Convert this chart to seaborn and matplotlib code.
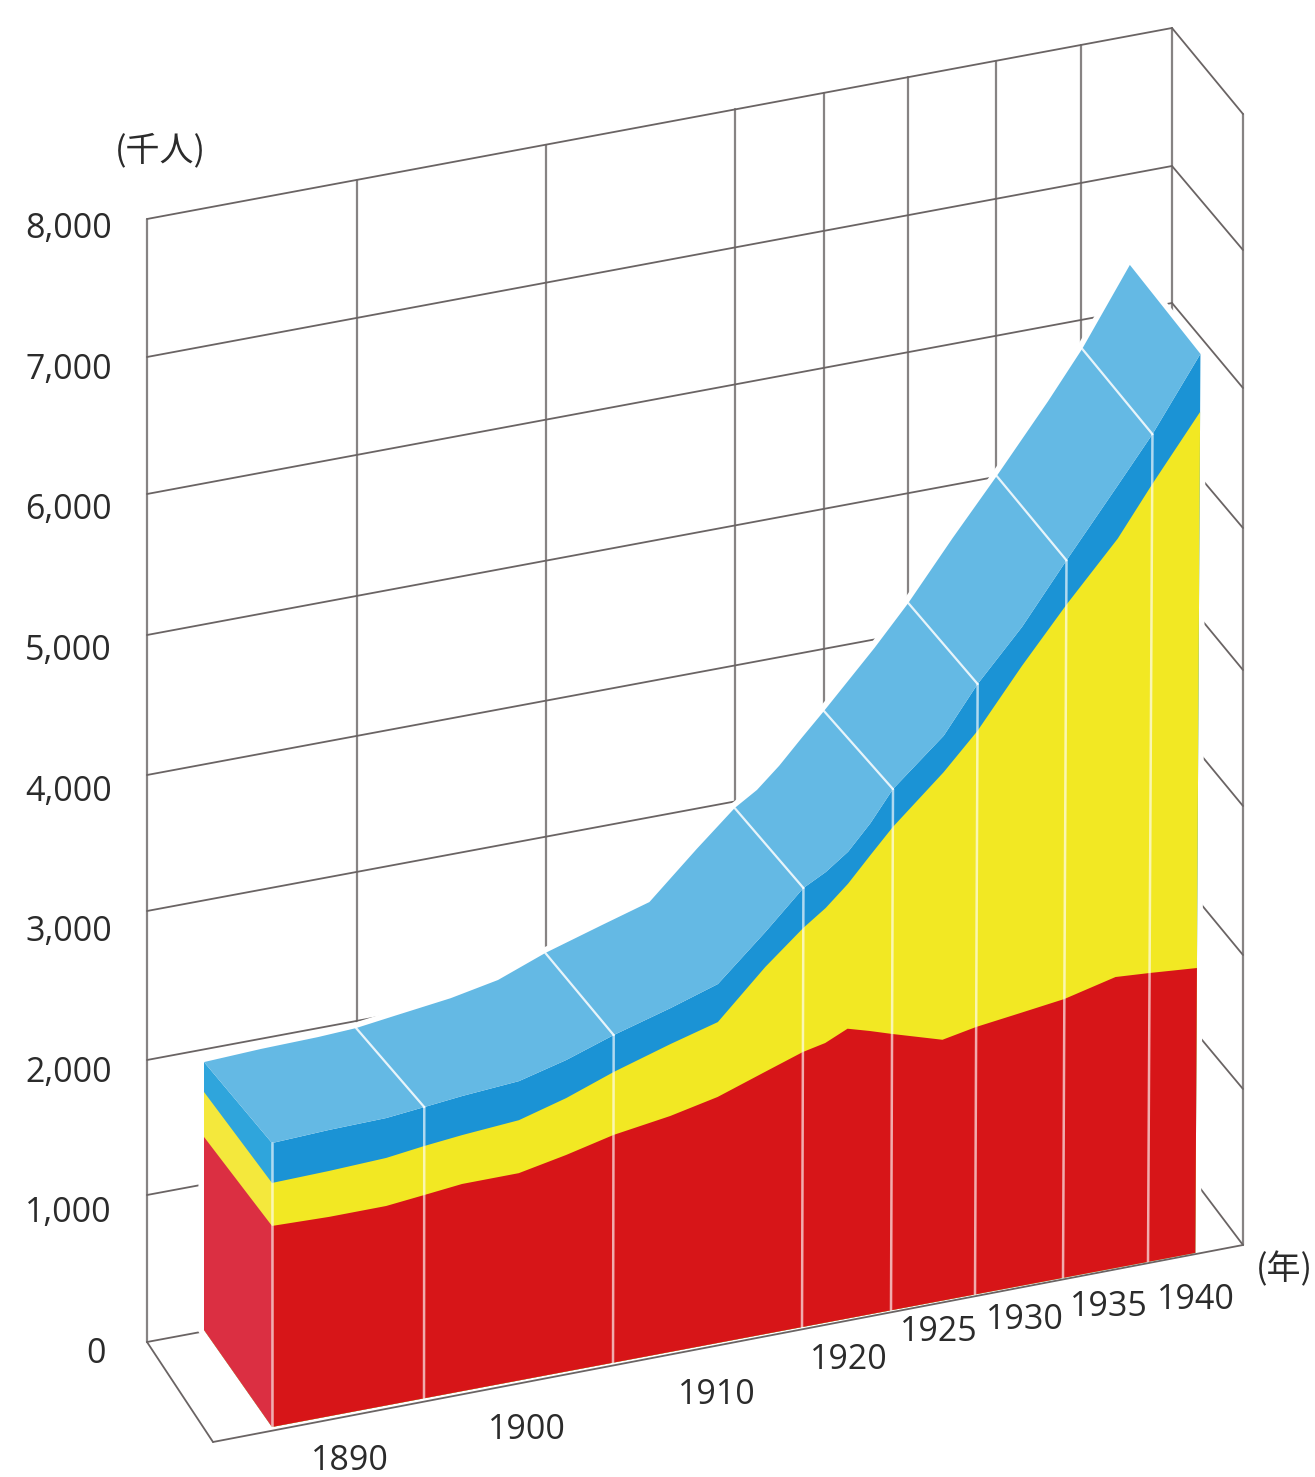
import numpy as np
import pandas as pd
import matplotlib
matplotlib.use('Agg')
import matplotlib.pyplot as plt
import seaborn as sns

# population, thousands
years = [1882, 1885, 1888, 1890, 1892, 1895, 1897.5, 1900, 1903, 1905.5, 1908, 1910, 1912.5,
         1915, 1917.5, 1920, 1923, 1925, 1927.5, 1930, 1933, 1935, 1937.6]
red = [1431, 1419, 1420, 1447, 1475, 1476, 1542, 1621, 1680, 1752, 1867, 1958, 1992,
       2064, 2018, 1967, 1858, 1904, 1944, 1985, 2073, 2056, 2028]
yellow = [1737, 1746, 1762, 1796, 1823, 1853, 1947, 2069, 2192, 2285, 2614, 2841, 2953,
          3096, 3270, 3440, 3762, 4011, 4414, 4790, 5194, 5535, 5986]
total = [2021, 2038, 2046, 2073, 2101, 2131, 2218, 2332, 2448, 2556, 2863, 3125, 3209,
         3324, 3498, 3710, 4022, 4345, 4692, 5107, 5575, 5891, 6399]
# back edge of the block, drawn a little lower than the front
total_back = [1907, 1924, 1932, 1945, 1980, 2031, 2097, 2226, 2349, 2449, 2764, 3004, 3103,
              3246, 3413, 3575, 3957, 4231, 4633, 5017, 5480, 5808, 6342]
side_red = 1374
side_yellow = 1694

tick_years = [1890, 1900, 1910, 1920, 1925, 1930, 1935, 1940]
value_ticks = [0, 1000, 2000, 3000, 4000, 5000, 6000, 7000, 8000]
value_labels = ['0', '1,000', '2,000', '3,000', '4,000', '5,000', '6,000', '7,000', '8,000']

# the year axis is not even, this is where the years sit on the front edge
axis_years = [1879, 1882, 1890, 1900, 1910, 1920, 1925, 1930, 1935, 1940]
axis_pos = [214, 272, 424, 613, 802, 891, 975, 1063, 1148, 1239]
year_label_pos = [(350, 1461), (527, 1430), (717, 1395), (849, 1360),
                  (939, 1332), (1025, 1320), (1109, 1307), (1196, 1300)]
# the drawn walls are not quite even either: ends of the grid lines, value 0 to 8000
wall_left_y = [1342, 1195, 1060, 911, 775, 635, 494, 357, 219]
wall_front_y = [1245, 1089, 955, 806, 670, 528, 388, 250, 114]

col_red, col_yellow, col_dark, col_top = '#d71518', '#f2e823', '#1b93d5', '#64b9e4'
side_reds, side_yellows, side_blues = '#db2f42', '#f4e83c', '#2fa5dc'
line_col = '#6a6464'
upright_col = '#878383'
text_col = '#2b2b2b'


def block_xy(yr, val, depth):
    # depth 1 is the front face, 0 the back edge
    yr, val = np.asarray(yr, float), np.asarray(val, float)
    x = np.interp(yr, axis_years, axis_pos)
    base = 1427 - 0.1885 * (x - 272)
    lean = 0.0008 * val * (x - 272) / 923 * (0.5 + 0.5 * depth)
    return x - 68 * (1 - depth) + lean, base - 97 * (1 - depth) - val * 0.1405


def back_x(yr):
    return np.interp(yr, axis_years, axis_pos) - 67


def back_y(x, left_y):
    return left_y - 191 * (x - 147) / 1025


def poly(ax, points, color, z):
    xs = np.concatenate([p[0] for p in points])
    ys = np.concatenate([p[1] for p in points])
    ax.fill(xs, ys, color=color, lw=0, zorder=z)


def line_table(segs):
    rows = []
    for i, (a, b) in enumerate(segs):
        rows.append({'line': i, 'x': float(a[0]), 'y': float(a[1])})
        rows.append({'line': i, 'x': float(b[0]), 'y': float(b[1])})
    return pd.DataFrame(rows)


def draw_lines(ax, segs, color, lw, z, alpha=1):
    sns.lineplot(data=line_table(segs), x='x', y='y', units='line', estimator=None, sort=False,
                 color=color, linewidth=lw, zorder=z, alpha=alpha, legend=False, ax=ax)


sns.set_theme(style='white')
plt.rcParams['font.family'] = ['Open Sans', 'Noto Sans CJK JP', 'DejaVu Sans']

fig = plt.figure(figsize=(13.15, 14.77), dpi=100)
ax = fig.add_axes([0, 0, 1, 1])

# walls and floor behind the block
x_l, x_r, x_f = back_x(1879), back_x(1940), 1243
slant_segs, upright_segs = [], []
for ly, fy in zip(wall_left_y, wall_front_y):
    slant_segs.append(((x_l, ly), (x_r, back_y(x_r, ly))))
    slant_segs.append(((x_r, back_y(x_r, ly)), (x_f, fy)))
for yr in [1879] + tick_years:
    x = back_x(yr)
    upright_segs.append(((x, back_y(x, wall_left_y[0])), (x, back_y(x, wall_left_y[-1]))))
upright_segs.append(((x_f, wall_front_y[0]), (x_f, wall_front_y[-1])))
slant_segs.append(((x_l, wall_left_y[0]), (213, 1442)))
draw_lines(ax, upright_segs, upright_col, 1.6, 1)
draw_lines(ax, slant_segs, line_col, 1.3, 1)

yrs = np.array(years)
zero = np.zeros(len(yrs))
start = yrs[:1]

# white gap round the block where the grid stops short of it
outline = [block_xy(yrs, total_back, 0), block_xy(yrs[-1:], total[-1:], 1),
           block_xy(yrs[-1:], [0], 1), block_xy(start, [0], 1), block_xy(start, [0], 0)]
ax.fill(np.concatenate([p[0] for p in outline]), np.concatenate([p[1] for p in outline]),
        facecolor='white', edgecolor='white', lw=8, joinstyle='miter', zorder=2)

# side face, back to front and top down
for top_b, top_f, c in [(total_back[0], total[0], side_blues),
                        (side_yellow, yellow[0], side_yellows),
                        (side_red, red[0], side_reds)]:
    poly(ax, [block_xy(start, [top_b], 0), block_xy(start, [top_f], 1),
              block_xy(start, [0], 1), block_xy(start, [0], 0)], c, 3)

# front face, every band goes down to the floor so no seams show
for series, c in [(total, col_dark), (yellow, col_yellow), (red, col_red)]:
    fx, fy = block_xy(yrs, series, 1)
    bx, by = block_xy(yrs, zero, 1)
    poly(ax, [(fx, fy), (bx[::-1], by[::-1])], c, 4)

# top surface
fx, fy = block_xy(yrs, total, 1)
bx, by = block_xy(yrs, total_back, 0)
poly(ax, [(bx, by), (fx[::-1], fy[::-1])], col_top, 5)

# white year lines on the block
white_segs, ridge_segs = [], []
for yr in tick_years[:-1]:
    t_f = np.interp(yr, yrs, total)
    t_b = np.interp(yr, yrs, total_back)
    white_segs.append((block_xy(yr, 0, 1), block_xy(yr, t_f, 1)))
    ridge_segs.append((block_xy(yr, t_b, 0), block_xy(yr, t_f, 1)))
white_segs.append((block_xy(start[0], 0, 1), block_xy(start[0], total[0], 1)))
draw_lines(ax, white_segs, 'white', 1.8, 6, alpha=0.65)
draw_lines(ax, ridge_segs, 'white', 1.6, 6, alpha=0.85)

# floor edge runs in front of the block
draw_lines(ax, [((213, 1442), (x_f, wall_front_y[0]))], line_col, 1.3, 7)

for v, lab in zip(value_ticks, value_labels):
    ax.text(106 if v == 0 else 112, 1354 - v * 0.1406, lab, ha='right', va='center',
            fontsize=24.5, color=text_col)
for (tx, ty), yr in zip(year_label_pos, tick_years):
    ax.text(tx, ty, str(yr), ha='center', va='center', fontsize=24.5, color=text_col)
ax.text(160, 151, '(千人)', ha='center', va='center', fontsize=24.5, color=text_col,
        family=['Noto Sans CJK JP', 'DejaVu Sans'])
ax.text(1284, 1270, '(年)', ha='center', va='center', fontsize=24.5, color=text_col,
        family=['Noto Sans CJK JP', 'DejaVu Sans'])

ax.set_xlim(0, 1315)
ax.set_ylim(1477, 0)
ax.axis('off')
fig.savefig('out.png', dpi=100)
